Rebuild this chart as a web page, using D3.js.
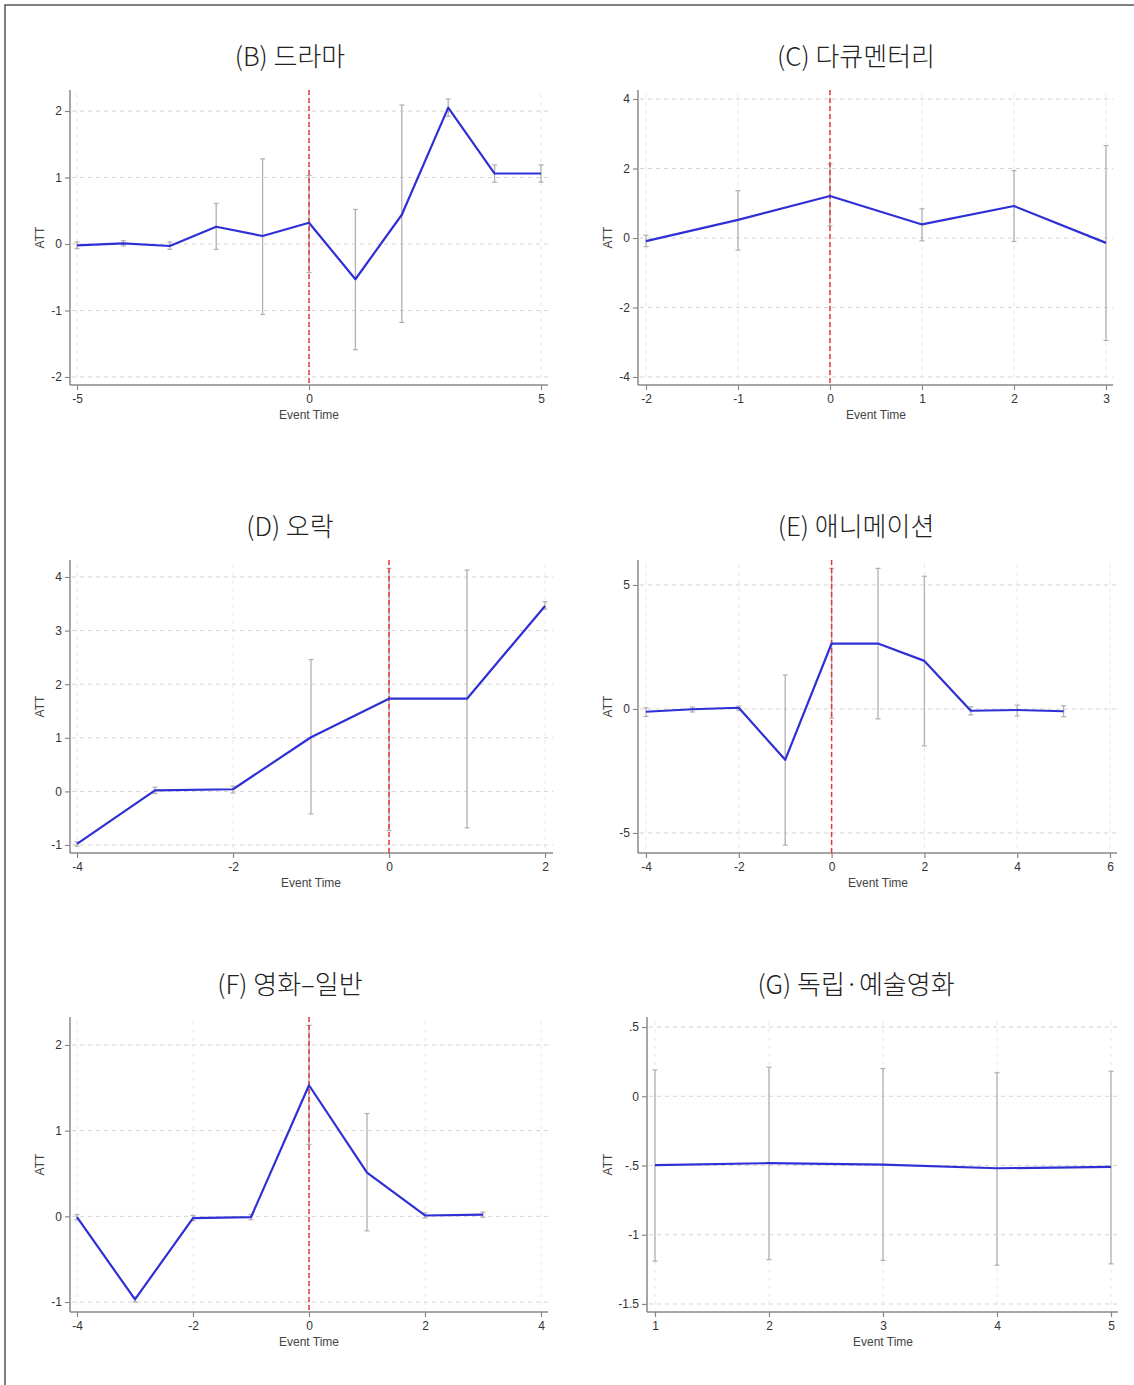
<!DOCTYPE html>
<html>
<head>
<meta charset="utf-8">
<script src="https://cdn.jsdelivr.net/npm/d3@7"></script>
<style>
  body { margin: 0; background: #fff; }
  svg { display: block; }
  .tick-label { font-family: "Liberation Sans Narrow", "Liberation Sans", Arial, sans-serif; font-size: 12px; fill: #333; }
  .axis-title { font-family: "Liberation Sans", Arial, sans-serif; font-size: 12px; fill: #444; }
  .panel-title { font-family: "Noto Sans CJK KR", sans-serif; font-size: 26px; font-weight: 300; fill: #222; }
</style>
</head>
<body>
<div id="chart"></div>
<script>
// panel titles
const titles = ["(B) 드라마", "(C) 다큐멘터리", "(D) 오락", "(E) 애니메이션", "(F) 영화–일반", "(G) 독립·예술영화"];

// event times per panel
const timesB = [-5, -4, -3, -2, -1, 0, 1, 2, 3, 4, 5];
const timesC = [-2, -1, 0, 1, 2, 3];
const timesD = [-4, -3, -2, -1, 0, 1, 2];
const timesE = [-4, -3, -2, -1, 0, 1, 2, 3, 4, 5];
const timesF = [-4, -3, -2, -1, 0, 1, 2, 3];
const timesG = [1, 2, 3, 4, 5];

// ATT estimates
const attB = [-0.02, 0.01, -0.03, 0.26, 0.12, 0.32, -0.53, 0.44, 2.05, 1.06, 1.06];
const attC = [-0.09, 0.52, 1.21, 0.39, 0.92, -0.14];
const attD = [-0.98, 0.02, 0.04, 1.01, 1.73, 1.73, 3.46];
const attE = [-0.11, -0.01, 0.05, -2.05, 2.64, 2.64, 1.94, -0.07, -0.04, -0.09];
const attF = [-0.01, -0.97, -0.02, -0.01, 1.53, 0.51, 0.01, 0.02];
const attG = [-0.498, -0.483, -0.493, -0.52, -0.51];

// confidence interval bounds
const loB = [-0.07, -0.03, -0.08, -0.08, -1.06, -0.43, -1.59, -1.18, 1.92, 0.93, 0.93];
const hiB = [0.03, 0.05, 0.03, 0.61, 1.28, 1.03, 0.52, 2.09, 2.18, 1.19, 1.19];
const loC = [-0.25, -0.35, 0.35, -0.08, -0.10, -2.95];
const hiC = [0.08, 1.36, 2.13, 0.84, 1.94, 2.66];
const loD = [-1.02, -0.04, -0.03, -0.42, -0.73, -0.68, 3.40];
const hiD = [-0.94, 0.08, 0.10, 2.46, 4.16, 4.13, 3.54];
const loE = [-0.30, -0.12, -0.06, -5.49, -0.37, -0.40, -1.49, -0.24, -0.28, -0.31];
const hiE = [0.05, 0.08, 0.12, 1.37, 5.67, 5.67, 5.35, 0.09, 0.16, 0.13];
const loF = [-0.04, -1.00, -0.05, -0.04, 0.84, -0.17, -0.02, -0.01];
const hiF = [0.02, -0.94, 0.01, 0.02, 2.23, 1.20, 0.04, 0.05];
const loG = [-1.19, -1.18, -1.185, -1.22, -1.21];
const hiG = [0.19, 0.21, 0.20, 0.17, 0.18];

// tick values per panel
const xTicksB = [-5, 0, 5];
const xTicksC = [-2, -1, 0, 1, 2, 3];
const xTicksD = [-4, -2, 0, 2];
const xTicksE = [-4, -2, 0, 2, 4, 6];
const xTicksF = [-4, -2, 0, 2, 4];
const xTicksG = [1, 2, 3, 4, 5];
const yTicksB = [-2, -1, 0, 1, 2];
const yTicksC = [-4, -2, 0, 2, 4];
const yTicksD = [-1, 0, 1, 2, 3, 4];
const yTicksE = [-5, 0, 5];
const yTicksF = [-1, 0, 1, 2];
const yTicksG = [-1.5, -1, -0.5, 0, 0.5];

// stata style labels: ".5" and "-.5"
function stataFmt(v) {
  let s = String(v);
  return s.replace(/^0\./, ".").replace(/^-0\./, "-.");
}

const panels = [
  { title: titles[0], t: timesB, att: attB, lo: loB, hi: hiB, xt: xTicksB, yt: yTicksB, event: true },
  { title: titles[1], t: timesC, att: attC, lo: loC, hi: hiC, xt: xTicksC, yt: yTicksC, event: true },
  { title: titles[2], t: timesD, att: attD, lo: loD, hi: hiD, xt: xTicksD, yt: yTicksD, event: true },
  { title: titles[3], t: timesE, att: attE, lo: loE, hi: hiE, xt: xTicksE, yt: yTicksE, event: true },
  { title: titles[4], t: timesF, att: attF, lo: loF, hi: hiF, xt: xTicksF, yt: yTicksF, event: true },
  { title: titles[5], t: timesG, att: attG, lo: loG, hi: hiG, xt: xTicksG, yt: yTicksG, event: false }
];

// layout of each panel frame (axis positions and scale ranges)
const layouts = [
  { axisX: 70,  right: 548,  top: 90,   axisY: 385,  xr: [77, 541],   yr: [377, 111],  titleX: 290, titleY: 66,  attX: 40 },
  { axisX: 638, right: 1113, top: 90,   axisY: 385,  xr: [646, 1106], yr: [377, 99],   titleX: 856, titleY: 66,  attX: 608 },
  { axisX: 70,  right: 553,  top: 560,  axisY: 853,  xr: [77, 545],   yr: [845, 577],  titleX: 290, titleY: 536, attX: 40 },
  { axisX: 638, right: 1117, top: 560,  axisY: 853,  xr: [646, 1110], yr: [833, 585],  titleX: 856, titleY: 536, attX: 608 },
  { axisX: 70,  right: 548,  top: 1017, axisY: 1312, xr: [77, 541],   yr: [1302, 1045], titleX: 290, titleY: 994, attX: 40 },
  { axisX: 647, right: 1118, top: 1017, axisY: 1312, xr: [655, 1111], yr: [1304, 1027], titleX: 856, titleY: 994, attX: 608 }
];

const W = 1134, H = 1385;
const svg = d3.select("#chart").append("svg")
  .attr("width", W)
  .attr("height", H);

// outer frame (left and top edges only)
svg.append("path")
  .attr("d", `M5,${H} L5,5 L${W},5`)
  .attr("fill", "none")
  .attr("stroke", "#555")
  .attr("stroke-width", 1.5);

panels.forEach(function(p, i) {
  const L = layouts[i];
  const g = svg.append("g");

  const x = d3.scaleLinear()
    .domain([p.xt[0], p.xt[p.xt.length - 1]])
    .range(L.xr);
  const y = d3.scaleLinear()
    .domain([p.yt[0], p.yt[p.yt.length - 1]])
    .range(L.yr);

  // title
  g.append("text")
    .attr("class", "panel-title")
    .attr("x", L.titleX)
    .attr("y", L.titleY)
    .attr("text-anchor", "middle")
    .text(p.title);

  // grid lines
  g.selectAll(".hgrid")
    .data(p.yt)
    .enter()
    .append("line")
    .attr("x1", L.axisX + 2)
    .attr("x2", L.right)
    .attr("y1", function(d) { return y(d); })
    .attr("y2", function(d) { return y(d); })
    .attr("stroke", "#d4d4d4")
    .attr("stroke-width", 1)
    .attr("stroke-dasharray", "4,4");
  g.selectAll(".vgrid")
    .data(p.xt)
    .enter()
    .append("line")
    .attr("x1", function(d) { return x(d); })
    .attr("x2", function(d) { return x(d); })
    .attr("y1", L.top + 4)
    .attr("y2", L.axisY - 2)
    .attr("stroke", "#e8e8e8")
    .attr("stroke-width", 1)
    .attr("stroke-dasharray", "4,4");

  // axes
  const yAxis = d3.axisLeft(y)
    .tickValues(p.yt)
    .tickSize(5)
    .tickPadding(3)
    .tickFormat(stataFmt);
  const ya = g.append("g")
    .attr("transform", `translate(${L.axisX},0)`)
    .call(yAxis);
  ya.select(".domain").remove();
  ya.append("line")
    .attr("x1", 0).attr("x2", 0)
    .attr("y1", L.top).attr("y2", L.axisY)
    .attr("stroke", "#888").attr("stroke-width", 1.5);

  const xAxis = d3.axisBottom(x)
    .tickValues(p.xt)
    .tickSize(5)
    .tickPadding(4)
    .tickFormat(stataFmt);
  const xa = g.append("g")
    .attr("transform", `translate(0,${L.axisY})`)
    .call(xAxis);
  xa.select(".domain").remove();
  xa.append("line")
    .attr("x1", L.axisX).attr("x2", L.right)
    .attr("y1", 0).attr("y2", 0)
    .attr("stroke", "#888").attr("stroke-width", 1.5);

  [ya, xa].forEach(function(a) {
    a.attr("font-family", null).attr("font-size", null);
    a.selectAll(".tick line").attr("stroke", "#888").attr("stroke-width", 1.2);
    a.selectAll(".tick text")
      .attr("class", "tick-label")
      .attr("fill", "#333");
  });

  // axis titles
  g.append("text")
    .attr("class", "axis-title")
    .attr("transform", `translate(${L.attX + 4},${(L.top + L.axisY) / 2}) rotate(-90)`)
    .attr("text-anchor", "middle")
    .text("ATT");
  g.append("text")
    .attr("class", "axis-title")
    .attr("x", (L.xr[0] + L.xr[1]) / 2)
    .attr("y", L.axisY + 34)
    .attr("text-anchor", "middle")
    .text("Event Time");

  const rows = p.t.map(function(t, k) {
    return { t: t, att: p.att[k], lo: p.lo[k], hi: p.hi[k] };
  });

  // confidence intervals
  g.selectAll(".ci")
    .data(rows)
    .enter()
    .append("line")
    .attr("x1", function(d) { return x(d.t); })
    .attr("x2", function(d) { return x(d.t); })
    .attr("y1", function(d) { return y(d.lo); })
    .attr("y2", function(d) { return y(d.hi); })
    .attr("stroke", "#b0b0b0")
    .attr("stroke-width", 1.3);
  ["lo", "hi"].forEach(function(k) {
    g.selectAll(".cap-" + k)
      .data(rows)
      .enter()
      .append("line")
      .attr("x1", function(d) { return x(d.t) - 2.5; })
      .attr("x2", function(d) { return x(d.t) + 2.5; })
      .attr("y1", function(d) { return y(d[k]); })
      .attr("y2", function(d) { return y(d[k]); })
      .attr("stroke", "#b0b0b0")
      .attr("stroke-width", 1.2);
  });

  // event line at time 0
  if (p.event) {
    g.append("line")
      .attr("x1", x(0)).attr("x2", x(0))
      .attr("y1", L.top)
      .attr("y2", L.axisY)
      .attr("stroke", "#e03a3a")
      .attr("stroke-width", 1.5)
      .attr("stroke-dasharray", "5,3");
  }

  // ATT line
  const line = d3.line()
    .x(function(d) { return x(d.t); })
    .y(function(d) { return y(d.att); });
  g.append("path")
    .datum(rows)
    .attr("d", line)
    .attr("fill", "none")
    .attr("stroke", "#2f2fd6")
    .attr("stroke-width", 2.2)
    .attr("stroke-linejoin", "round");
});
</script>
</body>
</html>
